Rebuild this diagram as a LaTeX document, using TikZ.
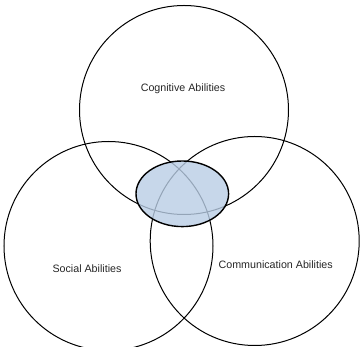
\documentclass[tikz,border=0pt]{standalone}
\usepackage{fontspec}
\setmainfont{Liberation Sans}
\usetikzlibrary{shapes.geometric}
\definecolor{centerfill}{RGB}{185,205,229}
\begin{document}
\begin{tikzpicture}[x=1pt,y=1pt,
  setcircle/.style={draw=black,line width=1pt,circle,minimum size=209pt,inner sep=0pt},
  label/.style={font=\fontsize{10.7}{12}\selectfont,text=black!85}]
\useasboundingbox (0,0) rectangle (361,347);
\clip (0,0) rectangle (361,347);
\node[setcircle] (cog) at (184,237) {};
\node[setcircle] (soc) at (108.5,101) {};
\node[setcircle] (com) at (254.7,106) {};
\node[draw=black,line width=1.4pt,ellipse,minimum width=92.6pt,minimum height=65.6pt,inner sep=0pt,
  fill=centerfill,fill opacity=0.8] (core) at (182.3,153.2) {};
\node[label] (tcog) at (183,258) {Cognitive Abilities};
\node[label] (tsoc) at (87,78) {Social Abilities};
\node[label] (tcom) at (275.7,82) {Communication Abilities};
\end{tikzpicture}
\end{document}
